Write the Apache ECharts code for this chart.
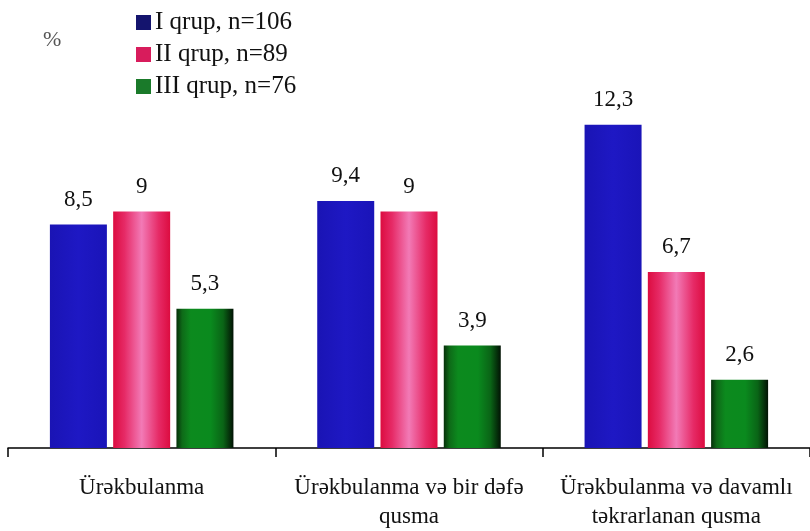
<!DOCTYPE html>
<html><head><meta charset="utf-8">
<script src="https://cdn.jsdelivr.net/npm/echarts@6/dist/echarts.min.js"></script>
<style>html,body{margin:0;padding:0;background:#fff;overflow:hidden}#c{width:810px;height:531px}</style>
</head><body><div id="c"></div>
<script>
const categories = ['Ürəkbulanma', 'Ürəkbulanma və bir dəfə\nqusma', 'Ürəkbulanma və davamlı\ntəkrarlanan qusma'];
const seriesNames = ['I qrup, n=106', 'II qrup, n=89', 'III qrup, n=76'];
const group1 = [8.5, 9.4, 12.3];
const group2 = [9, 9, 6.7];
const group3 = [5.3, 3.9, 2.6];

const font = 'Liberation Serif, Times New Roman, serif';
function grad(stops){return {type:'linear',x:0,y:0,x2:1,y2:0,colorStops:stops.map(c=>({offset:c[0],color:c[1]}))};}
const blue = grad([[0,'#1a14b4'],[0.5,'#1e18c4'],[1,'#1a14b8']]);
const pink = grad([[0,'#dc0c40'],[0.2,'#e62a66'],[0.5,'#f27ab6'],[0.8,'#e62a66'],[1,'#dc0c40']]);
const green = grad([[0,'#06300a'],[0.1,'#0e6a18'],[0.25,'#0c8a1e'],[0.6,'#0a8a1e'],[0.82,'#0a6416'],[1,'#021204']]);
const legendColors = ['#14146e', '#d81c5c', '#1a7a2a'];

function mk(name, data, color){
  return {name:name, type:'bar', data:data, barWidth:57, barGap:'11%',
    itemStyle:{color:color},
    label:{show:true, position:'top', distance:13, fontFamily:font, fontSize:23, color:'#111',
      formatter:p=>String(p.value).replace('.',',')}};
}
const chart = echarts.init(document.getElementById('c'));
chart.setOption({
  animation:false,
  backgroundColor:'#fff',
  grid:{left:8, width:804, top:80, height:370, containLabel:false},
  legend:{orient:'vertical', left:131, top:5, itemWidth:15, itemHeight:15, itemGap:7, icon:'rect',
    textStyle:{fontFamily:font, fontSize:25, color:'#111', padding:[0,0,0,-1]},
    data:seriesNames.map((n,i)=>({name:n, itemStyle:{color:legendColors[i]}}))},
  graphic:[{type:'text', left:43, top:29, style:{text:'%', fontFamily:font, fontSize:22, fill:'#555'}}],
  xAxis:{type:'category', data:categories, boundaryGap:true,
    axisLine:{lineStyle:{color:'#000', width:1.5}},
    axisTick:{show:true, length:9, lineStyle:{color:'#000', width:1.5}},
    axisLabel:{margin:25, fontFamily:font, fontSize:23, color:'#111', lineHeight:29, interval:0}},
  yAxis:{type:'value', min:0, max:14, show:false, splitLine:{show:false}},
  series:[mk(seriesNames[0], group1, blue), mk(seriesNames[1], group2, pink), mk(seriesNames[2], group3, green)]
});
</script></body></html>
